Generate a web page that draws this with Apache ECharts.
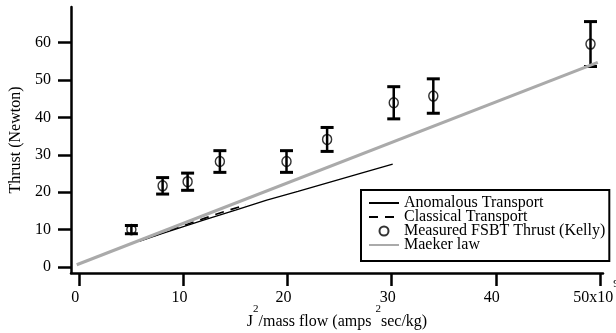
<!DOCTYPE html>
<html>
<head>
<meta charset="utf-8">
<script src="https://cdn.jsdelivr.net/npm/echarts@6/dist/echarts.min.js"></script>
<style>
html,body{margin:0;padding:0;background:#fff;}
#chart{width:616px;height:333px;}
</style>
</head>
<body>
<div id="chart"></div>
<script>
// ---- data ----
const measuredX   = [5, 8, 10.4, 13.5, 19.9, 23.8, 30.2, 34.0, 49.1];
const measuredY   = [10, 21.7, 22.8, 28.2, 28.2, 34.1, 43.9, 45.7, 59.6];
const measuredErr = [1.1, 2.2, 2.3, 2.9, 2.9, 3.2, 4.3, 4.6, 6.0];

const anomalousX = [5.8, 8, 10, 12, 15, 18, 21, 24, 27, 30.1];
const anomalousY = [6.9, 9.0, 10.8, 12.6, 15.2, 17.9, 20.2, 22.6, 25.0, 27.5];

const classicalX = [5.8, 8, 10, 12, 14, 16];
const classicalY = [7.0, 9.2, 11.1, 13.0, 14.9, 16.6];

const maekerX = [-0.25, 49.8];
const maekerY = [0.6, 54.7];

const xTicks = [0, 10, 20, 30, 40, 50];
const yTicks = [0, 10, 20, 30, 40, 50, 60];

const seriesNames = ['Anomalous Transport', 'Classical Transport', 'Measured FSBT Thrust (Kelly)', 'Maeker law'];

const FONT = 'Liberation Serif';
const zip = (a, b) => a.map((v, i) => [v, b[i]]);

const chart = echarts.init(document.getElementById('chart'), null, {renderer: 'canvas'});

const hiddenSymbol = {color: 'rgba(0,0,0,0)', borderColor: 'rgba(0,0,0,0)', borderWidth: 0};

const option = {
  animation: false,
  backgroundColor: '#fff',
  grid: {left: 71, right: 13, top: 7, bottom: 60, containLabel: false, outerBoundsMode: 'none'},
  legend: {
    orient: 'vertical',
    left: 361,
    top: 190,
    padding: [5, 4, 8, 7],
    itemWidth: 30,
    itemHeight: 9,
    itemGap: -2,
    backgroundColor: '#fff',
    borderColor: '#000',
    borderWidth: 2,
    borderRadius: 0,
    data: seriesNames,
    textStyle: {fontFamily: FONT, fontSize: 16, color: '#000'}
  },
  xAxis: {
    type: 'value',
    min: -0.8,
    max: 50.3,
    name: 'J{s|2}/mass flow (amps {s|2}sec/kg)',
    nameLocation: 'middle',
    nameGap: 31,
    nameMoveOverlap: false,
    nameTextStyle: {
      fontFamily: FONT, fontSize: 16, color: '#000', lineHeight: 36,
      rich: {s: {fontFamily: FONT, fontSize: 11, lineHeight: 10, verticalAlign: 'top', color: '#000'}}
    },
    axisLine: {show: true, onZero: false, lineStyle: {color: '#000', width: 2.5}},
    axisTick: {show: true, customValues: xTicks, length: 13, lineStyle: {color: '#000', width: 2.5}},
    axisLabel: {
      customValues: xTicks,
      margin: 6,
      padding: [0, 8, 0, 0],
      formatter: function (v) {
        return v === 50 ? '{m|50x10}{s|9}' : '{m|' + v + '}';
      },
      rich: {
        m: {fontFamily: FONT, fontSize: 16, lineHeight: 38, color: '#000'},
        s: {fontFamily: FONT, fontSize: 11, lineHeight: 10, verticalAlign: 'top', color: '#000'}
      }
    },
    splitLine: {show: false}
  },
  yAxis: {
    type: 'value',
    min: -1.6,
    max: 69.5,
    name: 'Thrust (Newton)',
    nameLocation: 'middle',
    nameGap: 47,
    nameMoveOverlap: false,
    nameTextStyle: {fontFamily: FONT, fontSize: 16, color: '#000'},
    axisLine: {show: true, onZero: false, lineStyle: {color: '#000', width: 2.5}},
    axisTick: {show: true, customValues: yTicks, length: 13, lineStyle: {color: '#000', width: 2.5}},
    axisLabel: {customValues: yTicks, margin: 20, fontFamily: FONT, fontSize: 16, color: '#000'},
    splitLine: {show: false}
  },
  series: [
    {
      name: seriesNames[0],
      type: 'line',
      data: zip(anomalousX, anomalousY),
      symbol: 'none',
      lineStyle: {color: '#000', width: 1.3, type: 'solid'},
      itemStyle: hiddenSymbol,
      z: 2
    },
    {
      name: seriesNames[1],
      type: 'line',
      data: zip(classicalX, classicalY),
      symbol: 'none',
      lineStyle: {color: '#000', width: 1.6, type: [9, 7]},
      itemStyle: hiddenSymbol,
      z: 2
    },
    {
      name: 'errorbars',
      type: 'custom',
      silent: true,
      data: measuredX.map((x, i) => [x, measuredY[i], measuredErr[i]]),
      renderItem: function (params, api) {
        const x = api.value(0), y = api.value(1), e = api.value(2);
        const top = api.coord([x, y + e]);
        const bot = api.coord([x, y - e]);
        const hw = 6.5;
        return {
          type: 'group',
          children: [
            {type: 'line', shape: {x1: top[0], y1: top[1], x2: bot[0], y2: bot[1]}, style: {stroke: '#000', lineWidth: 2.5}},
            {type: 'line', shape: {x1: top[0] - hw, y1: top[1], x2: top[0] + hw, y2: top[1]}, style: {stroke: '#000', lineWidth: 3}},
            {type: 'line', shape: {x1: bot[0] - hw, y1: bot[1], x2: bot[0] + hw, y2: bot[1]}, style: {stroke: '#000', lineWidth: 3}}
          ]
        };
      },
      z: 3
    },
    {
      name: seriesNames[2],
      type: 'scatter',
      data: zip(measuredX, measuredY),
      symbol: 'circle',
      symbolSize: [9, 10],
      itemStyle: {color: 'rgba(255,255,255,0)', borderColor: '#000', borderWidth: 1.5},
      z: 4
    },
    {
      name: seriesNames[3],
      type: 'line',
      data: zip(maekerX, maekerY),
      symbol: 'none',
      lineStyle: {color: '#aaaaaa', width: 3.2},
      itemStyle: hiddenSymbol,
      z: 5
    }
  ]
};

chart.setOption(option);
</script>
</body>
</html>
